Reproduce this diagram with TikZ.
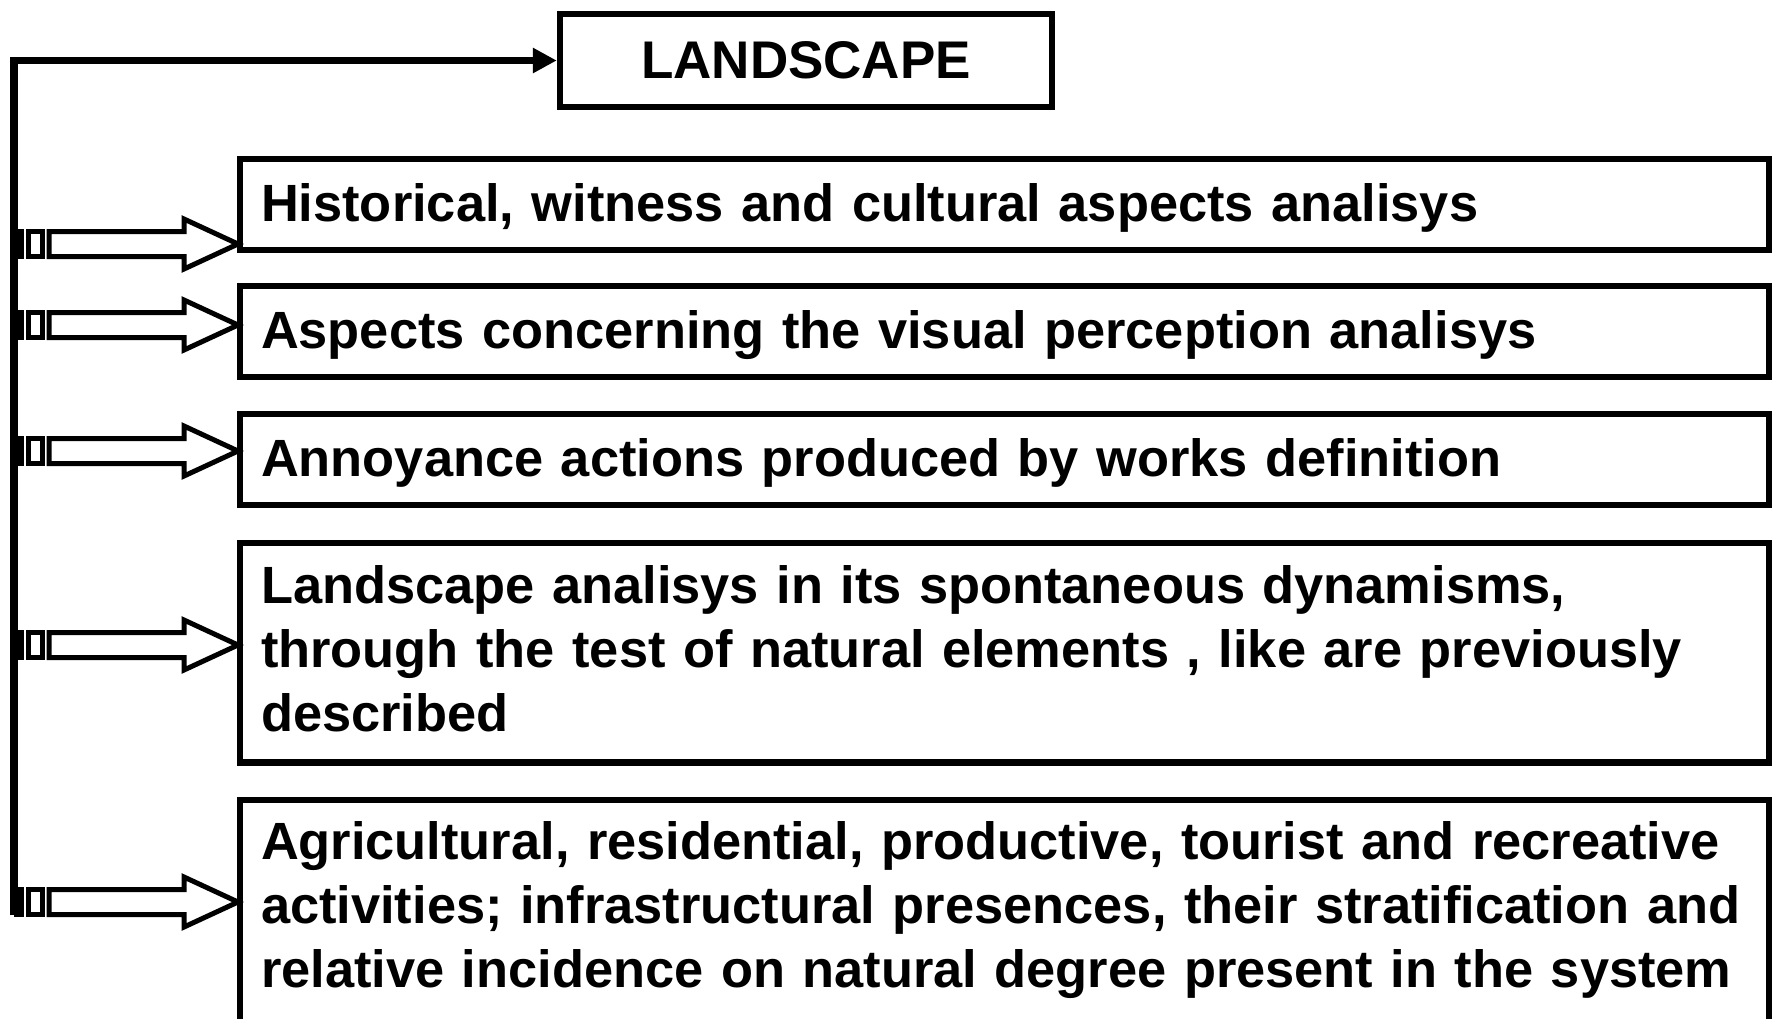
\documentclass[tikz,border=0pt]{standalone}
\usepackage{fontspec}
\setmainfont{Liberation Sans}
\usetikzlibrary{arrows.meta}

\tikzset{
  box/.style={draw, line width=3.25pt, outer sep=0pt, inner ysep=0pt, inner xsep=10.5pt,
    anchor=north west, text width=743.5pt, align=left,
    font=\fontsize{26.2pt}{32pt}\selectfont\bfseries},
  arrline/.style={line width=2.5pt, line join=miter},
  spine/.style={line width=3.75pt, line join=miter}
}

% striped block arrow, tip at #1
\newcommand{\striparrow}[1]{%
\begin{scope}[shift={(#1)}]
\draw [arrline] (-2,0) -- (-56,-25) -- (-56,-12.5) -- (-191,-12.5) -- (-191,12.5)
  -- (-56,12.5) -- (-56,25) -- cycle;
\draw [arrline] (-212,-12.5) rectangle (-198,12.5);
\draw [arrline] (-223.5,-12.5) rectangle (-218.5,12.5);
\end{scope}}

\begin{document}
\begin{tikzpicture}[x=0.5pt,y=-0.5pt]
\useasboundingbox (0,0) rectangle (1775,1018);
\clip (0,0) rectangle (1775,1018);

\node [draw, line width=3.25pt, minimum width=246pt, minimum height=46.5pt,
  font=\fontsize{26.5pt}{30pt}\selectfont\bfseries] (land) at (806,60.5) {LANDSCAPE};

\node [box, text height=31pt, text depth=14.5pt] (b1) at (240,159)
  {Historical, witness and cultural aspects analisys};
\node [box, text height=31pt, text depth=14.5pt] (b2) at (240,286)
  {Aspects concerning the visual perception analisys};
\node [box, text height=31pt, text depth=14.5pt] (b3) at (240,414)
  {Annoyance actions produced by works definition};
\node [box, text height=30.3pt, text depth=79.5pt] (b4) at (240,543)
  {Landscape analisys in its spontaneous dynamisms,\\
   through the test of natural elements , like are previously\\
   described};
\node [box, text height=29.6pt, text depth=86pt] (b5) at (240,800)
  {Agricultural, residential, productive, tourist and recreative\\
   activities; infrastructural presences, their stratification and\\
   relative incidence on natural degree present in the system};

\coordinate (bot) at (14,915);
\draw [spine, -{Triangle[length=12pt,width=12pt]}] (bot) |- (land.west);

\foreach \i/\y in {1/244,2/325,3/451,4/645,5/902}{
  \coordinate (s\i) at (14,\y);
  \striparrow{b\i.west |- s\i}
}
\end{tikzpicture}
\end{document}
